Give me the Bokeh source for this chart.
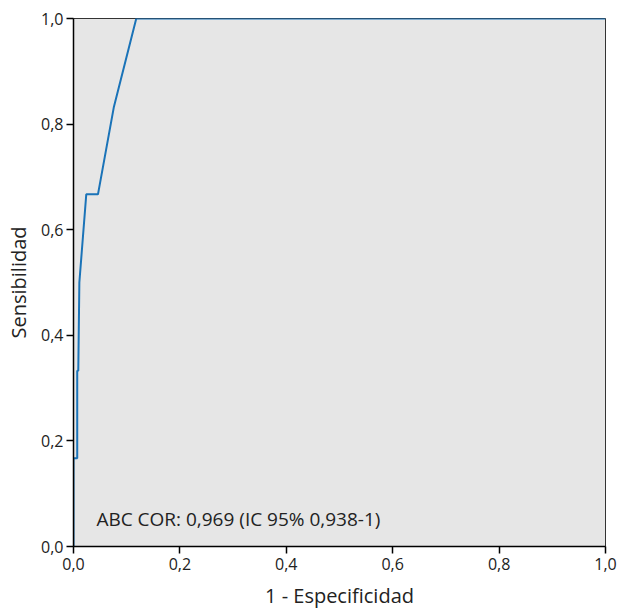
from bokeh.plotting import figure
from bokeh.models import FixedTicker, CustomJSTickFormatter, Range1d, Label
from bokeh.embed import file_html
from bokeh.resources import INLINE

# ROC curve data (1 - specificity, sensitivity)
fpr = [0.0, 0.0, 0.007, 0.007, 0.009, 0.011, 0.024, 0.046, 0.076, 0.118, 1.0]
tpr = [0.0, 0.167, 0.167, 0.333, 0.333, 0.5, 0.667, 0.667, 0.833, 1.0, 1.0]
ticks = [0.0, 0.2, 0.4, 0.6, 0.8, 1.0]
annotation = "ABC COR: 0,969 (IC 95% 0,938-1)"
x_title = "1 - Especificidad"
y_title = "Sensibilidad"

FONT = "Open Sans"

p = figure(width=617, height=611, output_backend="svg", toolbar_location=None,
           x_range=Range1d(0, 1), y_range=Range1d(0, 1),
           min_border_left=73, min_border_right=12, min_border_top=18, min_border_bottom=63)

p.background_fill_color = "#e6e6e6"
p.border_fill_color = "white"
p.outline_line_color = "#333333"
p.outline_line_width = 1
p.grid.visible = False

p.line(fpr, tpr, line_color="#1a73b8", line_width=2)

fmt = CustomJSTickFormatter(code="return tick.toFixed(1).replace('.', ',');")
for ax in (p.xaxis[0], p.yaxis[0]):
    ax.ticker = FixedTicker(ticks=ticks)
    ax.formatter = fmt
    ax.minor_tick_line_color = None
    ax.major_tick_in = 0
    ax.major_tick_out = 7
    ax.major_tick_line_color = "black"
    ax.major_tick_line_width = 1.5
    ax.axis_line_color = "black"
    ax.axis_line_width = 1.5
    ax.major_label_text_font = FONT
    ax.major_label_text_font_size = "16px"
    ax.major_label_text_color = "#222222"
    ax.axis_label_text_font = FONT
    ax.axis_label_text_font_size = "20px"
    ax.axis_label_text_font_style = "normal"
    ax.axis_label_text_color = "#222222"

p.xaxis.axis_label = x_title
p.yaxis.axis_label = y_title
p.xaxis.major_label_standoff = 4
p.xaxis.axis_label_standoff = 9
p.yaxis.major_label_standoff = 3
p.yaxis.axis_label_standoff = 6

lab = Label(x=0.043, y=0.053, text=annotation, text_font=FONT, text_font_size="19px",
            text_color="#222222", text_baseline="middle", text_align="left")
p.add_layout(lab)

open("out.html", "w").write(file_html(p, INLINE))
